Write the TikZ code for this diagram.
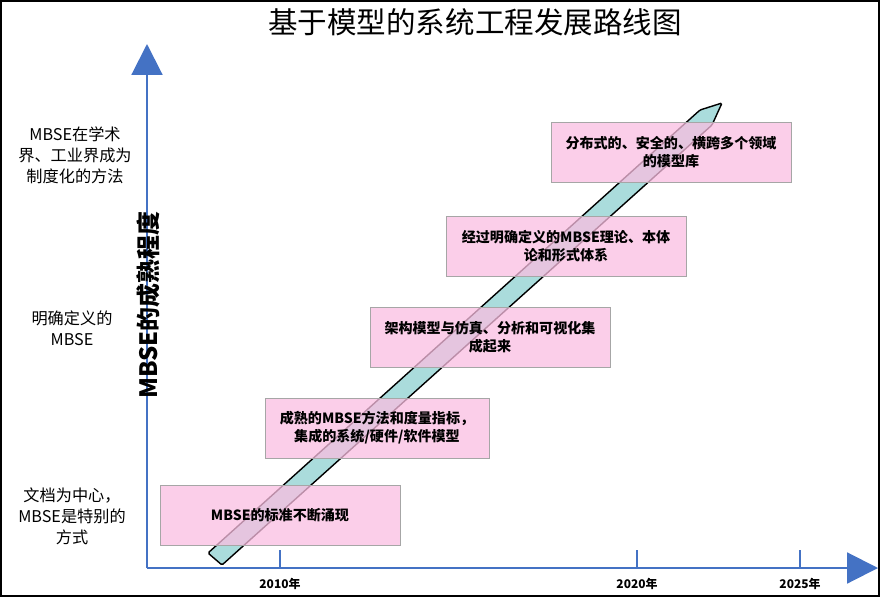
\documentclass[tikz,border=0pt]{standalone}
\usepackage{fontspec}
\setmainfont{Noto Sans CJK SC}
\usetikzlibrary{arrows.meta,positioning}
\definecolor{axisblue}{RGB}{68,114,196}
\definecolor{stagepink}{RGB}{250,190,225}
\definecolor{bandcyan}{RGB}{170,220,220}

\tikzset{
  stagebox/.style={draw=gray!70, fill=stagepink, fill opacity=0.75, text opacity=1,
    minimum width=6cm, minimum height=1.5cm, align=center, font=\fontsize{10}{13}\selectfont\bfseries},
  levellabel/.style={align=center, font=\fontsize{11.5}{15}\selectfont},
  yearlabel/.style={font=\fontsize{8.5}{10}\selectfont\bfseries}
}

\begin{document}
\begin{tikzpicture}[x=0.025cm, y=-0.025cm]
  \useasboundingbox (0,0) rectangle (880,597);
  \draw[line width=1.5pt] (1,1) rectangle (879,596);
  % title
  \node[font=\fontsize{21}{24}\selectfont] (title) at (475,22) {基于模型的系统工程发展路线图};
  % axes
  \coordinate (origin) at (147,568);
  \coordinate (ytop) at (147,44);
  \coordinate (xend) at (878,568);
  \draw[axisblue, line width=1.5pt, -{Triangle[width=22pt,length=22pt]}] (origin) -- (ytop);
  \draw[axisblue, line width=1.5pt, -{Triangle[width=22pt,length=22pt]}] (origin) -- (xend);
  \foreach \x/\yr in {280/2010, 637/2020, 800/2025} {
    \draw[axisblue, line width=1.5pt] (\x,550) -- (\x,568);
    \node[yearlabel] at (\x,584) {\yr 年};
  }
  \node[rotate=90, font=\fontsize{17}{18}\selectfont\bfseries] (yname) at (148,305) {MBSE的成熟程度};
  % level labels
  \node[levellabel] (levtop) at (75,155) {MBSE在学术\\界、工业界成为\\制度化的方法};
  \node[levellabel] (levmid) at (72,328) {明确定义的\\MBSE};
  \node[levellabel] (levlow) at (72,516) {文档为中心，\\MBSE是特别的\\方式};
  % rising band
  \draw[fill=bandcyan, line width=1pt, rounded corners=1pt]
    (208,553) -- (700,110) -- (722,103) -- (712,125) -- (222,565) -- cycle;
  % stages
  \node[stagebox] (stage1) at (280,515) {MBSE的标准不断涌现};
  \node[stagebox, minimum width=5.6cm] (stage2) at (377,428) {成熟的MBSE方法和度量指标，\\集成的系统/硬件/软件模型};
  \node[stagebox] (stage3) at (490,337) {架构模型与仿真、分析和可视化集\\成起来};
  \node[stagebox] (stage4) at (566,246) {经过明确定义的MBSE理论、本体\\论和形式体系};
  \node[stagebox] (stage5) at (671,152) {分布式的、安全的、横跨多个领域\\的模型库};
\end{tikzpicture}
\end{document}
